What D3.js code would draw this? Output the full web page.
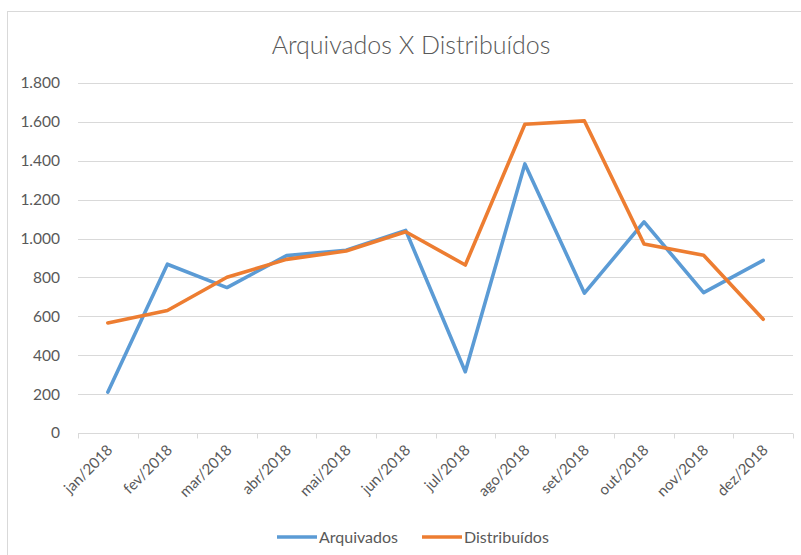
<!DOCTYPE html>
<html lang="pt">
<head>
<meta charset="UTF-8">
<title>Arquivados X Distribuídos</title>
<script src="https://d3js.org/d3.v7.min.js"></script>
<style>
    body { margin: 0; background: #fff; font-family: Lato, "Open Sans", sans-serif; }
    svg { display: block; }
</style>
</head>
<body>
<svg id="chart"></svg>
<script>
    // chart data
    const months = ['jan/2018', 'fev/2018', 'mar/2018', 'abr/2018', 'mai/2018', 'jun/2018',
                    'jul/2018', 'ago/2018', 'set/2018', 'out/2018', 'nov/2018', 'dez/2018'];
    const arquivados = [210, 868, 748, 912, 940, 1042, 315, 1384, 719, 1086, 722, 888];
    const distribuidos = [566, 630, 801, 893, 936, 1035, 864, 1588, 1605, 972, 914, 585];
    const yTicks = [0, 200, 400, 600, 800, 1000, 1200, 1400, 1600, 1800];

    const width = 801, height = 555;
    const margin = { top: 83, right: 8, bottom: 122, left: 78 };
    const blue = '#5b9bd5', orange = '#ed7d31';
    const textColor = '#595959';

    const svg = d3.select('#chart').attr('width', width).attr('height', height);

    // outer chart frame (runs off the right/bottom edge as in the screenshot)
    svg.append('rect')
        .attr('x', 7.5).attr('y', 11.5)
        .attr('width', 800).attr('height', 560)
        .attr('fill', 'none').attr('stroke', '#d9d9d9');

    svg.append('text')
        .attr('x', 411).attr('y', 54)
        .attr('text-anchor', 'middle')
        .attr('font-size', '25px')
        .attr('font-weight', 300)
        .attr('fill', textColor)
        .text('Arquivados X Distribuídos');

    const x = d3.scaleBand()
        .domain(months)
        .range([margin.left, width - margin.right]);

    const y = d3.scaleLinear()
        .domain([0, 1800])
        .range([height - margin.bottom, margin.top]);

    // gridlines
    svg.append('g')
        .selectAll('line')
        .data(yTicks.filter(d => d > 0))
        .join('line')
        .attr('x1', margin.left).attr('x2', width - margin.right)
        .attr('y1', d => Math.round(y(d)) + 0.5).attr('y2', d => Math.round(y(d)) + 0.5)
        .attr('stroke', '#d9d9d9');

    // y labels
    const fmt = d3.formatLocale({ decimal: ',', thousands: '.', grouping: [3], currency: ['', ''] }).format(',');
    svg.append('g')
        .selectAll('text')
        .data(yTicks)
        .join('text')
        .attr('x', 60)
        .attr('y', d => y(d))
        .attr('dy', '0.35em')
        .attr('text-anchor', 'end')
        .attr('font-size', '15.5px')
        .attr('fill', textColor)
        .text(d => fmt(d));

    // x axis
    const xAxis = svg.append('g')
        .attr('transform', `translate(0,${Math.round(y(0)) + 0.5})`);
    xAxis.append('line')
        .attr('x1', margin.left).attr('x2', width - margin.right)
        .attr('stroke', '#d9d9d9');
    const bounds = months.map(m => x(m)).concat([width - margin.right]);
    xAxis.selectAll('.tick')
        .data(bounds)
        .join('line')
        .attr('class', 'tick')
        .attr('x1', d => Math.round(d) + 0.5).attr('x2', d => Math.round(d) + 0.5)
        .attr('y1', 0).attr('y2', 5)
        .attr('stroke', '#d9d9d9');
    xAxis.selectAll('.lbl')
        .data(months)
        .join('text')
        .attr('class', 'lbl')
        .attr('transform', d => `translate(${x(d) + x.bandwidth() / 2 + 2},14) rotate(-45)`)
        .attr('text-anchor', 'end')
        .attr('dy', '0.35em')
        .attr('font-size', '15px')
        .attr('fill', textColor)
        .text(d => d);

    // lines
    const line = d3.line()
        .x((d, i) => x(months[i]) + x.bandwidth() / 2)
        .y(d => y(d));

    [[arquivados, blue], [distribuidos, orange]].forEach(([vals, color]) => {
        svg.append('path')
            .datum(vals)
            .attr('d', line)
            .attr('fill', 'none')
            .attr('stroke', color)
            .attr('stroke-width', 3.6)
            .attr('stroke-linejoin', 'round')
            .attr('stroke-linecap', 'round');
    });

    // legend
    const legend = [
        { name: 'Arquivados', color: blue, x: 277 },
        { name: 'Distribuídos', color: orange, x: 422 }
    ];
    const lg = svg.append('g').attr('transform', 'translate(0,537)');
    legend.forEach(l => {
        lg.append('line')
            .attr('x1', l.x).attr('x2', l.x + 40)
            .attr('stroke', l.color).attr('stroke-width', 3.6);
        lg.append('text')
            .attr('x', l.x + 42)
            .attr('dy', '0.35em')
            .attr('font-size', '16px')
            .attr('fill', textColor)
            .text(l.name);
    });
</script>
</body>
</html>
